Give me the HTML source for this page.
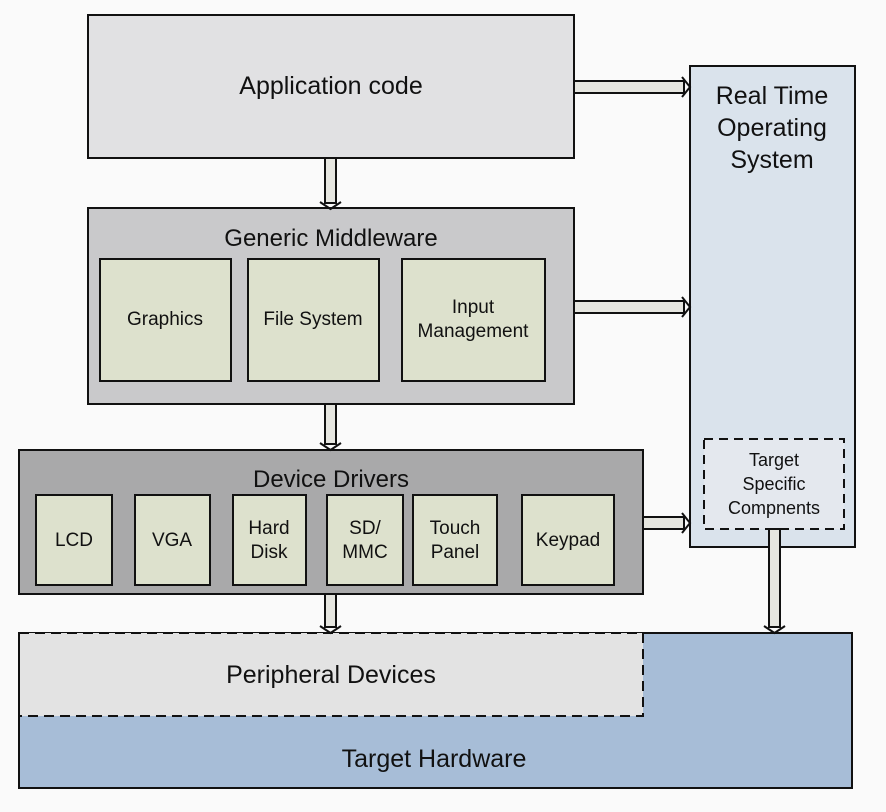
<!DOCTYPE html>
<html><head><meta charset="utf-8"><style>
html,body{margin:0;padding:0;background:#fafafa;}
svg{display:block;font-family:"Liberation Sans",Arial,sans-serif;}
</style></head><body>
<svg width="886" height="812" viewBox="0 0 886 812" xmlns="http://www.w3.org/2000/svg">
<rect width="886" height="812" fill="#fafafa"/>
<g stroke="#111" stroke-width="2">
<rect x="19" y="633" width="833" height="155" fill="#a7bdd7"/>
<rect x="19" y="633" width="624" height="83" fill="#e3e3e3" stroke-dasharray="10,6"/>
<line x1="19" y1="633" x2="19" y2="716"/>
<rect x="88" y="15" width="486" height="143" fill="#e1e1e3"/>
<rect x="690" y="66" width="165" height="481" fill="#dae3ec"/>
<rect x="704" y="439" width="140" height="90" fill="#e4e8ee" stroke-dasharray="9,6"/>
<rect x="88" y="208" width="486" height="196" fill="#c9c9cb"/>
<rect x="100" y="259" width="131" height="122" fill="#dde1cd"/>
<rect x="248" y="259" width="131" height="122" fill="#dde1cd"/>
<rect x="402" y="259" width="143" height="122" fill="#dde1cd"/>
<rect x="19" y="450" width="624" height="144" fill="#a9a9aa"/>
<rect x="36" y="495" width="76" height="90" fill="#dde1cd"/>
<rect x="135" y="495" width="75" height="90" fill="#dde1cd"/>
<rect x="233" y="495" width="73" height="90" fill="#dde1cd"/>
<rect x="327" y="495" width="76" height="90" fill="#dde1cd"/>
<rect x="413" y="495" width="84" height="90" fill="#dde1cd"/>
<rect x="522" y="495" width="92" height="90" fill="#dde1cd"/>
</g>
<g fill="#e6e6e0" stroke="#111" stroke-width="2">
<rect x="574" y="81" width="110" height="12"/>
<rect x="574" y="301" width="110" height="12"/>
<rect x="643" y="517" width="41" height="12"/>
<rect x="325" y="158" width="11" height="45"/>
<rect x="325" y="404" width="11" height="40"/>
<rect x="325" y="594" width="11" height="33"/>
<rect x="769" y="529" width="11" height="98"/>
</g>
<g fill="none" stroke="#111" stroke-width="2">
<polyline points="682,77 690,87 682,97"/>
<polyline points="682,297 690,307 682,317"/>
<polyline points="682,513 690,523 682,533"/>
<polyline points="320,202 330.5,209 341,202"/>
<polyline points="320,443 330.5,450 341,443"/>
<polyline points="320,626 330.5,633 341,626"/>
<polyline points="764,626 774.5,633 785,626"/>
</g>
<g fill="#111" text-anchor="middle">
<text x="331" y="94" font-size="25">Application code</text>
<text x="772" y="104" font-size="25">Real Time</text>
<text x="772" y="136" font-size="25">Operating</text>
<text x="772" y="168" font-size="25">System</text>
<text x="331" y="246" font-size="24">Generic Middleware</text>
<text x="165" y="325" font-size="19">Graphics</text>
<text x="313" y="325" font-size="19">File System</text>
<text x="473" y="313" font-size="19">Input</text>
<text x="473" y="337" font-size="19">Management</text>
<text x="331" y="487" font-size="24">Device Drivers</text>
<text x="74" y="546" font-size="19">LCD</text>
<text x="172" y="546" font-size="19">VGA</text>
<text x="269" y="534" font-size="19">Hard</text>
<text x="269" y="558" font-size="19">Disk</text>
<text x="365" y="534" font-size="19">SD/</text>
<text x="365" y="558" font-size="19">MMC</text>
<text x="455" y="534" font-size="19">Touch</text>
<text x="455" y="558" font-size="19">Panel</text>
<text x="568" y="546" font-size="19">Keypad</text>
<text x="774" y="466" font-size="18">Target</text>
<text x="774" y="490" font-size="18">Specific</text>
<text x="774" y="514" font-size="18">Compnents</text>
<text x="331" y="683" font-size="25">Peripheral Devices</text>
<text x="434" y="767" font-size="25">Target Hardware</text>
</g>
</svg>
</body></html>
